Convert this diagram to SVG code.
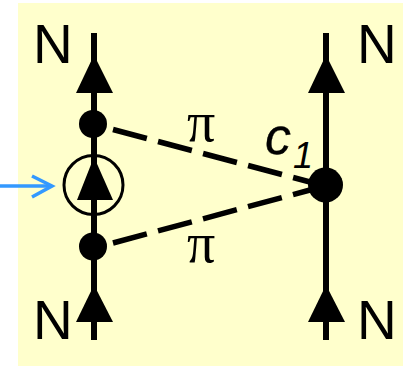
<svg xmlns="http://www.w3.org/2000/svg" width="403" height="366" viewBox="0 0 403 366">
<style>
.w{stroke:#000;stroke-width:6;fill:none}
.d{stroke:#000;stroke-width:5.5;fill:none;stroke-dasharray:35 11.6}
.n{font:55px "Liberation Sans",Arial,sans-serif;fill:#000}
.p{font:56px "Liberation Serif","Times New Roman",serif;fill:#000}
.b{stroke:#3399ff;stroke-width:3.5;fill:none}
</style>
<rect width="403" height="366" fill="#fff"/>
<rect id="panel" x="18" y="3" width="385" height="363" fill="#ffffcc"/>
<g id="connectors">
<path class="w" d="M94 33V340"/>
<path class="w" d="M326 33V340"/>
<path class="d" d="M113 129.500L310 182"/>
<path class="d" d="M113 243L310 190"/>
<path d="M94 55L113 93H76Z"/>
<path d="M94 157L113 200H77Z"/>
<path d="M94 285L113 322H76Z"/>
<path d="M326 55L345 93H308Z"/>
<path d="M326 285L345 322H308Z"/>
<path class="b" d="M0 186H51"/>
<path class="b" d="M32 176L52 186L32 197"/>
</g>
<g id="node-top"><circle cx="93" cy="124" r="14"/></g>
<g id="node-bottom"><circle cx="93" cy="246.500" r="14"/></g>
<g id="node-loop"><circle cx="93.500" cy="185" r="29.500" fill="none" stroke="#000" stroke-width="3"/></g>
<g id="node-c1"><circle cx="325.500" cy="185" r="17.500"/></g>
<g id="labels">
<text class="n" x="33" y="63">N</text>
<text class="n" x="33" y="339">N</text>
<text class="n" x="357" y="63">N</text>
<text class="n" x="357" y="339">N</text>
<text class="p" x="187" y="141">π</text>
<text class="p" x="187" y="262">π</text>
<text x="265" y="154" font-family="Liberation Sans" font-style="italic" font-size="52" stroke="#000" stroke-width="0.3">c</text>
<text x="293" y="168" font-family="Liberation Sans" font-style="italic" font-size="36">1</text>
</g>
</svg>
